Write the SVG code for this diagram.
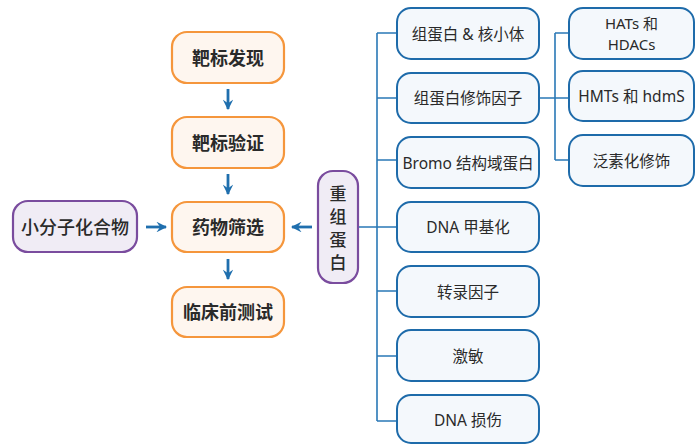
<svg xmlns="http://www.w3.org/2000/svg" width="698" height="445" viewBox="0 0 698 445">
<style>
.o{fill:#FEF6EF;stroke:#F5963C;stroke-width:2.2}
.p{fill:#F0ECF5;stroke:#7A4C9E;stroke-width:2.2}
.b{fill:#F4F8FC;stroke:#1E6BAA;stroke-width:2}
.t{font-family:"Noto Sans","Noto Sans CJK SC",sans-serif;fill:#2a2a2a;text-anchor:middle;dominant-baseline:central}
.tb{font-size:18px;font-weight:bold}
.tm{font-size:18px;font-weight:500}
.tv{font-size:17px;font-weight:500}
.ts{font-size:15.5px;font-weight:400}
.tx{font-size:15px;font-weight:400}
.ln{fill:none;stroke:#2A78B6;stroke-width:1.6}
.ar{fill:none;stroke:#1F6FAE;stroke-width:2.8}
</style>
<defs>
<marker id="ah" viewBox="0 0 10 10" refX="9" refY="5" markerWidth="3.8" markerHeight="3.8" orient="auto" markerUnits="strokeWidth">
<path d="M0,0 L10,5 L0,10 L3.5,5 Z" fill="#1F6FAE"/>
</marker>
</defs>
<rect width="698" height="445" fill="#fff"/>
<g id="connectors">
<line class="ar" x1="228" y1="89" x2="228" y2="109" marker-end="url(#ah)"/>
<line class="ar" x1="228" y1="174" x2="228" y2="194" marker-end="url(#ah)"/>
<line class="ar" x1="228" y1="259" x2="228" y2="279" marker-end="url(#ah)"/>
<line class="ar" x1="146" y1="227" x2="166" y2="227" marker-end="url(#ah)"/>
<line class="ar" x1="312" y1="227" x2="292" y2="227" marker-end="url(#ah)"/>
<path class="ln" d="M358,227 H377 M377,33 V421 M377,33 H397 M377,98 H397 M377,160 H397 M377,227 H397 M377,291 H397 M377,356 H397 M377,421 H397"/>
<path class="ln" d="M539,98 H569 M555,33 V160 M555,33 H569 M555,160 H569"/>
</g>
<g id="n1"><rect class="o" x="172" y="32" width="112" height="51" rx="15"/><text class="t tb" x="228" y="57.5">靶标发现</text></g>
<g id="n2"><rect class="o" x="172" y="117" width="112" height="51" rx="15"/><text class="t tb" x="228" y="142.5">靶标验证</text></g>
<g id="n3"><rect class="o" x="172" y="202" width="112" height="50" rx="15"/><text class="t tb" x="228" y="227">药物筛选</text></g>
<g id="n4"><rect class="o" x="172" y="287" width="112" height="50" rx="15"/><text class="t tb" x="228" y="312">临床前测试</text></g>
<g id="n5"><rect class="p" x="13" y="201" width="124" height="51" rx="15"/><text class="t tm" x="75" y="226.5">小分子化合物</text></g>
<g id="n6"><rect class="p" x="318" y="171" width="40" height="112" rx="15"/>
<text class="t tv" x="338" y="193">重</text><text class="t tv" x="338" y="216">组</text><text class="t tv" x="338" y="239">蛋</text><text class="t tv" x="338" y="262">白</text></g>
<g id="b1"><rect class="b" x="397" y="8" width="142" height="51" rx="14"/><text class="t ts" x="468" y="33.5">组蛋白 &amp; 核小体</text></g>
<g id="b2"><rect class="b" x="397" y="73" width="142" height="50" rx="14"/><text class="t ts" x="468" y="98">组蛋白修饰因子</text></g>
<g id="b3"><rect class="b" x="397" y="137" width="142" height="51" rx="14"/><text class="t ts" x="468" y="162.5">Bromo 结构域蛋白</text></g>
<g id="b4"><rect class="b" x="397" y="202" width="142" height="50" rx="14"/><text class="t ts" x="468" y="227">DNA 甲基化</text></g>
<g id="b5"><rect class="b" x="397" y="266" width="142" height="51" rx="14"/><text class="t ts" x="468" y="291.5">转录因子</text></g>
<g id="b6"><rect class="b" x="397" y="330" width="142" height="51" rx="14"/><text class="t ts" x="468" y="355.5">激敏</text></g>
<g id="b7"><rect class="b" x="397" y="395" width="142" height="48" rx="14"/><text class="t ts" x="468" y="420">DNA 损伤</text></g>
<g id="s1"><rect class="b" x="569" y="8" width="125" height="51" rx="14"/><text class="t tx" x="631.5" y="23">HATs 和</text><text class="t tx" x="631.5" y="44">HDACs</text></g>
<g id="s2"><rect class="b" x="569" y="71" width="125" height="50" rx="14"/><text class="t ts" x="631.5" y="96">HMTs 和 hdmS</text></g>
<g id="s3"><rect class="b" x="569" y="135" width="125" height="51" rx="14"/><text class="t ts" x="631.5" y="160.5">泛素化修饰</text></g>
</svg>
